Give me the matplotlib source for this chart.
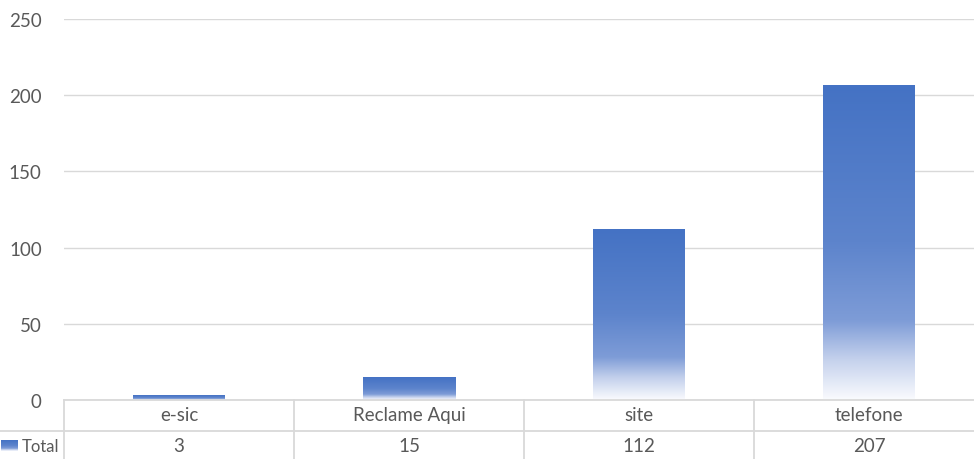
import numpy as np
import matplotlib.pyplot as plt
from matplotlib.colors import LinearSegmentedColormap
from matplotlib.transforms import blended_transform_factory

categories = ['e-sic', 'Reclame Aqui', 'site', 'telefone']
totals = [3, 15, 112, 207]
series_name = 'Total'
yticks = [0, 50, 100, 150, 200, 250]

plt.rcParams['font.family'] = ['Lato', 'DejaVu Sans']
txt_color = '#595959'
line_color = '#d9d9d9'
fs = 13.5

W, H = 974, 460
fig = plt.figure(figsize=(W / 100, H / 100), dpi=100)
# plot area runs a little past the right edge (reference is cropped)
ax = fig.add_axes([64 / W, (H - 401) / H, 920 / W, 381 / H])

grad = LinearSegmentedColormap.from_list('g', [
    (0.0, '#fafbfe'), (0.13, '#c3d0ec'), (0.25, '#7e9cd7'),
    (0.5, '#5d84cc'), (1.0, '#4472c4')])
gimg = np.linspace(0, 1, 256).reshape(-1, 1)

x = np.arange(len(categories))
bars = ax.bar(x, totals, width=0.40, color='none', edgecolor='none', zorder=3)
for b in bars:
    x0, w, h = b.get_x(), b.get_width(), b.get_height()
    im = ax.imshow(gimg, cmap=grad, origin='lower', aspect='auto',
                   extent=[x0, x0 + w, 0, h], zorder=3, interpolation='bilinear')
    im.set_clip_path(b)

ax.set_xlim(-0.5, len(categories) - 0.5)
ax.set_ylim(0, 250)
ax.set_yticks(yticks)
ax.set_xticks([])
ax.tick_params(axis='y', length=0, pad=16, labelsize=fs, labelcolor=txt_color)
ax.grid(axis='y', color=line_color, linewidth=1)
ax.set_axisbelow(True)
for s in ax.spines.values():
    s.set_visible(False)

# data table below the plot
fig_tr = fig.transFigure
trx = blended_transform_factory(ax.transData, fig_tr)
def fy(py):
    return (H - py) / H

fig.add_artist(plt.Line2D([64 / W, 1], [fy(401), fy(401)], color=line_color, lw=1.3, transform=fig_tr))
fig.add_artist(plt.Line2D([0, 1], [fy(432), fy(432)], color=line_color, lw=1.3, transform=fig_tr))
for i in range(len(categories)):
    xb = i - 0.5
    fig.add_artist(plt.Line2D([xb, xb], [fy(401), 0], color=line_color, lw=1.3, transform=trx))
for i, (c, v) in enumerate(zip(categories, totals)):
    fig.text(i, fy(416), c, transform=trx, ha='center', va='center', fontsize=fs, color=txt_color)
    fig.text(i, fy(447), str(v), transform=trx, ha='center', va='center', fontsize=fs, color=txt_color)

# legend key + series name
kax = fig.add_axes([1 / W, fy(452), 16 / W, 11 / H])
kax.imshow(gimg, cmap=grad, origin='lower', aspect='auto', extent=[0, 1, 0, 1])
kax.axis('off')
fig.text(59 / W, fy(447), series_name, ha='right', va='center', fontsize=12, color=txt_color)

fig.savefig('out.png', dpi=100)
